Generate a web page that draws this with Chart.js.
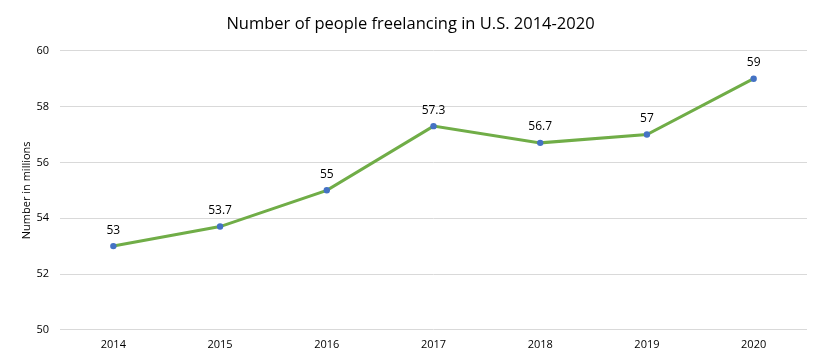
<!DOCTYPE html>
<html>
<head>
<meta charset="utf-8">
<script src="https://cdn.jsdelivr.net/npm/chart.js@4"></script>
<style>
  html, body { margin: 0; padding: 0; background: #fff; }
</style>
</head>
<body>
<canvas id="myChart" width="821" height="360"></canvas>
<script>
var years = ['2014', '2015', '2016', '2017', '2018', '2019', '2020'];
var freelancers = [53, 53.7, 55, 57.3, 56.7, 57, 59];
var yTicks = [50, 52, 54, 56, 58, 60];

// draws the value above each point
var valueLabels = {
  id: 'valueLabels',
  afterDatasetsDraw: function(chart) {
    var ctx = chart.ctx;
    var meta = chart.getDatasetMeta(0);
    ctx.save();
    ctx.font = '12px "Open Sans", sans-serif';
    ctx.fillStyle = '#000';
    ctx.textAlign = 'center';
    ctx.textBaseline = 'bottom';
    meta.data.forEach(function(pt, i) {
      ctx.fillText(String(freelancers[i]), pt.x, pt.y - 10);
    });
    ctx.restore();
  }
};

var ctx = document.getElementById('myChart').getContext('2d');
var myChart = new Chart(ctx, {
  type: 'line',
  data: {
    labels: years,
    datasets: [{
      label: 'Freelancers',
      data: freelancers,
      borderColor: '#70AD47',
      borderWidth: 3,
      backgroundColor: '#4472C4',
      pointBackgroundColor: '#4472C4',
      pointBorderColor: '#4472C4',
      pointBorderWidth: 0,
      pointRadius: 3.2,
      tension: 0
    }]
  },
  options: {
    responsive: false,
    animation: false,
    layout: { padding: { left: 14, right: 14, top: 6, bottom: 1 } },
    plugins: {
      legend: { display: false },
      tooltip: { enabled: false },
      title: {
        display: true,
        text: 'Number of people freelancing in U.S. 2014-2020',
        color: '#000',
        font: { family: '"Open Sans", sans-serif', size: 16.5, weight: 'normal' },
        padding: { top: 8, bottom: 17 }
      }
    },
    scales: {
      x: {
        offset: true,
        grid: { display: false, drawTicks: false },
        border: { display: false },
        ticks: {
          color: '#000',
          font: { family: '"Open Sans", sans-serif', size: 11 },
          padding: 8
        }
      },
      y: {
        min: 50,
        max: 60,
        afterBuildTicks: function(axis) {
          axis.ticks = yTicks.map(function(v) { return { value: v }; });
        },
        afterFit: function(axis) {
          axis.width = 46;
        },
        grid: { color: '#d9d9d9', drawTicks: false },
        border: { display: false },
        ticks: {
          color: '#000',
          font: { family: '"Open Sans", sans-serif', size: 11 },
          padding: 11
        },
        title: {
          display: true,
          text: 'Number in millions',
          color: '#000',
          font: { family: '"Open Sans", sans-serif', size: 11 },
          padding: { top: 6, bottom: 0 }
        }
      }
    }
  },
  plugins: [valueLabels]
});
</script>
</body>
</html>
